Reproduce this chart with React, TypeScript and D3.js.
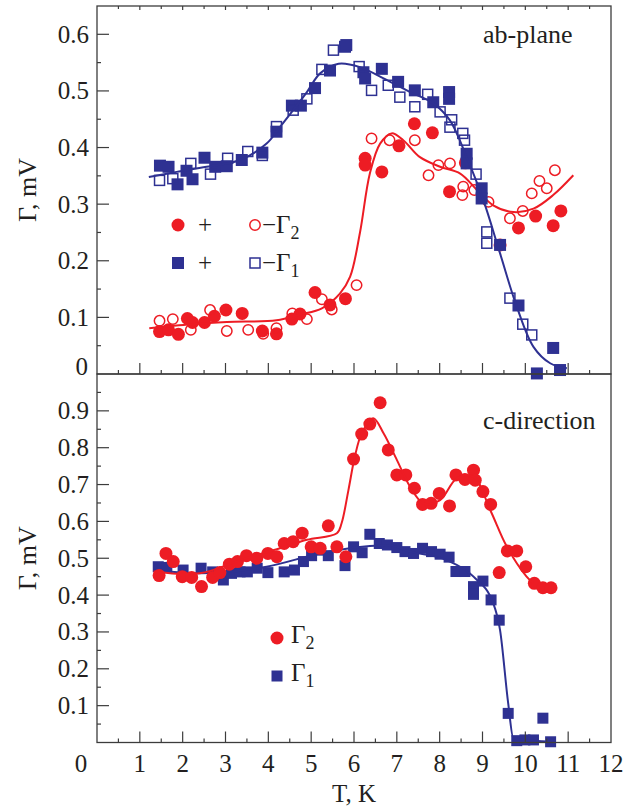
import React from "react";
import * as d3 from "d3";

// ---------- DATA ----------
// ab-plane, Γ2 (+ bias, filled circles)
const abPlusG2T = [1.46,1.67,1.90,2.11,2.23,2.51,2.74,3.01,3.39,3.86,4.19,4.55,4.74,5.09,5.44,5.80,6.26,6.26,6.65,7.05,7.41,7.83,8.23,8.60,9.41,9.84,10.24,10.65,10.83];
const abPlusG2V = [0.075,0.078,0.070,0.098,0.091,0.091,0.102,0.113,0.107,0.076,0.071,0.097,0.106,0.144,0.122,0.133,0.381,0.369,0.357,0.403,0.442,0.426,0.322,0.373,0.228,0.258,0.279,0.262,0.288];
// ab-plane, −Γ2 (open circles)
const abMinusG2T = [1.46,1.77,2.19,2.64,3.03,3.53,3.88,4.19,4.56,4.90,5.25,5.48,6.06,6.41,6.83,7.42,7.74,7.97,8.24,8.55,8.53,8.81,9.14,9.64,9.94,10.15,10.33,10.50,10.69];
const abMinusG2V = [0.094,0.097,0.078,0.113,0.076,0.078,0.071,0.081,0.107,0.097,0.132,0.114,0.157,0.416,0.413,0.413,0.351,0.369,0.372,0.331,0.316,0.325,0.304,0.275,0.288,0.319,0.341,0.328,0.360];
// ab-plane, Γ1 (+ bias, filled squares)
const abPlusG1T = [1.47,1.67,1.88,2.09,2.23,2.51,2.76,3.03,3.38,3.86,4.19,4.55,4.76,5.09,5.44,5.79,5.82,6.22,6.26,6.65,7.03,7.42,7.85,8.22,8.22,8.63,8.63,8.98,8.98,9.41,9.84,10.27,10.65,10.81];
const abPlusG1V = [0.368,0.366,0.335,0.359,0.344,0.382,0.366,0.367,0.378,0.391,0.428,0.474,0.474,0.505,0.536,0.578,0.581,0.533,0.522,0.539,0.516,0.501,0.480,0.498,0.486,0.389,0.372,0.328,0.310,0.228,0.121,0.001,0.046,0.007];
// ab-plane, −Γ1 (open squares)
const abMinusG1T = [1.46,1.77,2.19,2.65,3.05,3.52,3.86,4.19,4.58,4.90,5.25,5.52,6.12,6.41,6.80,7.07,7.42,7.72,8.01,8.24,8.28,8.54,8.58,8.85,9.10,9.10,9.64,9.94,10.15];
const abMinusG1V = [0.342,0.345,0.372,0.353,0.381,0.393,0.386,0.437,0.466,0.486,0.538,0.572,0.543,0.501,0.510,0.489,0.472,0.494,0.463,0.436,0.449,0.425,0.413,0.353,0.251,0.231,0.134,0.088,0.069];
// ab-plane fit curves
const abFitG1T = [1.21,1.86,2.56,3.34,3.96,4.27,4.58,4.90,5.21,5.64,6.14,6.69,7.31,7.85,8.24,8.63,9.02,9.41,9.80,10.19,10.58,10.97];
const abFitG1V = [0.348,0.357,0.366,0.378,0.407,0.436,0.466,0.498,0.531,0.548,0.542,0.522,0.498,0.478,0.448,0.383,0.307,0.213,0.119,0.048,0.019,0.010];
const abFitG2T = [1.22,2.20,3.03,4.19,4.74,5.25,5.67,5.91,6.14,6.37,6.61,6.88,7.15,7.54,8.01,8.48,8.87,9.25,9.72,10.19,10.65,11.12];
const abFitG2V = [0.081,0.088,0.092,0.095,0.105,0.116,0.142,0.172,0.250,0.354,0.407,0.425,0.413,0.383,0.366,0.354,0.325,0.298,0.286,0.292,0.316,0.351];

// c-direction, Γ2 (filled circles)
const cG2T = [1.45,1.61,1.78,1.99,2.21,2.44,2.70,2.87,3.09,3.28,3.49,3.73,3.99,4.20,4.37,4.58,4.79,5.00,5.21,5.40,5.60,5.81,5.99,6.18,6.37,6.61,6.80,7.00,7.21,7.41,7.60,7.80,7.99,8.23,8.38,8.59,8.79,8.83,9.01,9.19,9.39,9.58,9.80,10.01,10.21,10.41,10.60];
const cG2V = [0.453,0.513,0.491,0.450,0.448,0.423,0.448,0.461,0.484,0.491,0.507,0.500,0.513,0.504,0.540,0.545,0.568,0.531,0.527,0.588,0.531,0.504,0.769,0.837,0.864,0.922,0.794,0.726,0.726,0.690,0.646,0.649,0.676,0.642,0.726,0.714,0.739,0.712,0.681,0.646,0.461,0.520,0.520,0.477,0.432,0.420,0.420];
// c-direction, Γ1 (filled squares)
const cG1T = [1.43,1.63,2.01,2.43,2.70,2.95,3.14,3.34,3.51,3.74,3.99,4.37,4.61,4.82,5.01,5.21,5.40,5.79,5.99,6.19,6.37,6.59,6.78,7.00,7.19,7.39,7.60,7.81,8.01,8.22,8.38,8.59,8.79,8.79,9.01,9.20,9.39,9.60,9.80,9.99,10.19,10.41,10.59];
const cG1V = [0.477,0.475,0.468,0.473,0.463,0.441,0.459,0.463,0.463,0.473,0.461,0.463,0.468,0.491,0.507,0.522,0.507,0.480,0.531,0.515,0.565,0.540,0.536,0.529,0.518,0.513,0.527,0.518,0.511,0.503,0.464,0.464,0.423,0.402,0.438,0.387,0.332,0.079,0.005,0.007,0.007,0.066,0.002];
// c-direction fit curves
const cFitG1T = [1.32,2.40,3.96,5.21,6.37,6.80,7.31,8.16,8.79,9.25,9.41,9.60,9.72,10.20,10.65];
const cFitG1V = [0.468,0.459,0.477,0.513,0.533,0.535,0.518,0.495,0.450,0.378,0.305,0.106,0.011,0.005,0.002];
const cFitG2T = [1.32,2.40,3.34,4.27,4.90,5.60,5.71,5.87,6.02,6.18,6.45,6.69,7.00,7.31,7.62,8.01,8.40,8.79,9.18,9.57,10.03,10.19];
const cFitG2V = [0.464,0.459,0.495,0.527,0.550,0.568,0.595,0.685,0.776,0.839,0.880,0.839,0.767,0.694,0.649,0.658,0.717,0.721,0.631,0.531,0.450,0.432];

const xTickValues = [1,2,3,4,5,6,7,8,9,10,11,12];
const topYTicks = [0.1,0.2,0.3,0.4,0.5,0.6];
const botYTicks = [0.1,0.2,0.3,0.4,0.5,0.6,0.7,0.8,0.9];

// ---------- STYLE ----------
const RED = "#ED1C24";
const BLUE = "#2E3192";
const TXT = "#231F20";
const AX = "#3c3c3c";
const FONT = "Liberation Serif, Tinos, DejaVu Serif, Times New Roman, serif";

const L = 97, R = 611, TOP = 6, MID = 374, BOT = 742.5;

const x = d3.scaleLinear().domain([0, 12]).range([L, R]);
const yTop = d3.scaleLinear().domain([0, 0.65]).range([MID, TOP]);
const yBot = d3.scaleLinear().domain([0, 1.0]).range([BOT, MID]);

const zip = (t: number[], v: number[]) => t.map((tt, i) => [tt, v[i]] as [number, number]);

function curvePath(t: number[], v: number[], y: d3.ScaleLinear<number, number>, mono = false) {
  const g = d3.line<[number, number]>()
    .x(d => x(d[0]))
    .y(d => y(d[1]))
    .curve(mono ? d3.curveMonotoneX : d3.curveCatmullRom.alpha(0.5));
  return g(zip(t, v)) || "";
}

function Circles({ t, v, y, filled }: any) {
  return (
    <g>
      {zip(t, v).map((d, i) => filled
        ? <circle key={i} cx={x(d[0])} cy={y(d[1])} r={6.5} fill={RED} />
        : <circle key={i} cx={x(d[0])} cy={y(d[1])} r={5.2} fill="white" fillOpacity={0} stroke={RED} strokeWidth={1.5} />)}
    </g>
  );
}
function Squares({ t, v, y, filled, s = 12 }: any) {
  return (
    <g>
      {zip(t, v).map((d, i) => filled
        ? <rect key={i} x={x(d[0]) - s / 2} y={y(d[1]) - s / 2} width={s} height={s} fill={BLUE} />
        : <rect key={i} x={x(d[0]) - 5} y={y(d[1]) - 5} width={10} height={10} fill="none" stroke={BLUE} strokeWidth={1.5} />)}
    </g>
  );
}

function XTicks({ yBase, top }: { yBase: number; top?: boolean }) {
  const major = d3.range(1, 12);
  const minor = d3.range(0.5, 12, 1);
  const dir = top ? 1 : -1;
  return (
    <g stroke={AX} strokeWidth={1.2}>
      {major.map(t => <line key={"M" + t} x1={x(t)} x2={x(t)} y1={yBase} y2={yBase + dir * (top ? 4 : 11)} />)}
      {minor.map(t => <line key={"m" + t} x1={x(t)} x2={x(t)} y1={yBase} y2={yBase + dir * (top ? 3 : 4)} />)}
    </g>
  );
}
function YTicks({ y, ticks, max }: any) {
  const minor = d3.range(0.05, max, 0.1);
  return (
    <g stroke={AX} strokeWidth={1.2}>
      {ticks.map((t: number) => <line key={"M" + t} x1={L} x2={L + 12} y1={y(t)} y2={y(t)} />)}
      {minor.map((t: number) => <line key={"m" + t} x1={L} x2={L + 4} y1={y(t)} y2={y(t)} />)}
    </g>
  );
}

export default function App() {
  return (
    <svg width={638} height={810} style={{ position: "absolute", left: 0, top: 0, background: "white", fontFamily: FONT }}>
      <rect x={0} y={0} width={638} height={810} fill="white" />

      {/* ---------- top panel ---------- */}
      <Circles t={abPlusG2T} v={abPlusG2V} y={yTop} filled />
      <Circles t={abMinusG2T} v={abMinusG2V} y={yTop} filled={false} />
      <path d={curvePath(abFitG2T, abFitG2V, yTop)} fill="none" stroke={RED} strokeWidth={2} />
      <Squares t={abPlusG1T} v={abPlusG1V} y={yTop} filled />
      <Squares t={abMinusG1T} v={abMinusG1V} y={yTop} filled={false} />
      <path d={curvePath(abFitG1T, abFitG1V, yTop)} fill="none" stroke={BLUE} strokeWidth={2} />

      {/* ---------- bottom panel ---------- */}
      <Squares t={cG1T} v={cG1V} y={yBot} filled s={11} />
      <path d={curvePath(cFitG1T, cFitG1V, yBot, true)} fill="none" stroke={BLUE} strokeWidth={2} />
      <Circles t={cG2T} v={cG2V} y={yBot} filled />
      <path d={curvePath(cFitG2T, cFitG2V, yBot)} fill="none" stroke={RED} strokeWidth={2} />

      {/* ---------- frames ---------- */}
      <g fill="none" stroke={AX} strokeWidth={1.3}>
        <rect x={L} y={TOP} width={R - L} height={MID - TOP} />
        <rect x={L} y={MID} width={R - L} height={BOT - MID} />
      </g>
      <XTicks yBase={TOP} top />
      <XTicks yBase={MID} />
      <XTicks yBase={BOT} />
      <YTicks y={yTop} ticks={topYTicks} max={0.6} />
      <YTicks y={yBot} ticks={botYTicks} max={1.0} />

      {/* ---------- tick labels ---------- */}
      <g fill={TXT} fontSize={25} style={{ fontFamily: FONT }}>
        {topYTicks.map(t => <text key={"ty" + t} x={89} y={yTop(t)} dy="0.34em" textAnchor="end">{t.toFixed(1)}</text>)}
        <text x={88} y={375} textAnchor="end">0</text>
        {botYTicks.map(t => <text key={"by" + t} x={89} y={yBot(t)} dy="0.34em" textAnchor="end">{t.toFixed(1)}</text>)}
        <text x={81} y={772} textAnchor="middle">0</text>
        {xTickValues.map(t => <text key={"x" + t} x={x(t)} y={772} textAnchor="middle">{t}</text>)}
      </g>

      {/* ---------- axis titles ---------- */}
      <g fill={TXT} fontSize={26} style={{ fontFamily: FONT }}>
        <text transform={`translate(36,${(TOP + MID) / 2}) rotate(-90)`} textAnchor="middle">Γ, mV</text>
        <text transform={`translate(36,${(MID + BOT) / 2}) rotate(-90)`} textAnchor="middle">Γ, mV</text>
        <text x={354} y={802} textAnchor="middle" fontSize={25}>T, K</text>
        <text x={483} y={43}>ab-plane</text>
        <text x={483} y={429}>c-direction</text>
      </g>

      {/* ---------- legend top ---------- */}
      <g fill={TXT} fontSize={25} style={{ fontFamily: FONT }}>
        <circle cx={178} cy={225} r={6.5} fill={RED} />
        <text x={205} y={233} textAnchor="middle">+</text>
        <circle cx={255} cy={225} r={5.2} fill="none" stroke={RED} strokeWidth={1.5} />
        <text x={262} y={233}>−Γ<tspan fontSize={18} dy={6}>2</tspan></text>
        <rect x={172} y={257} width={12} height={12} fill={BLUE} />
        <text x={205} y={271} textAnchor="middle">+</text>
        <rect x={250} y={258} width={10} height={10} fill="none" stroke={BLUE} strokeWidth={1.5} />
        <text x={262} y={271}>−Γ<tspan fontSize={18} dy={6}>1</tspan></text>
      </g>
      {/* ---------- legend bottom ---------- */}
      <g fill={TXT} fontSize={25} style={{ fontFamily: FONT }}>
        <circle cx={277} cy={638} r={6.5} fill={RED} />
        <text x={291} y={643}>Γ<tspan fontSize={18} dy={6}>2</tspan></text>
        <rect x={271.5} y={670.5} width={11} height={11} fill={BLUE} />
        <text x={291} y={681}>Γ<tspan fontSize={18} dy={6}>1</tspan></text>
      </g>
    </svg>
  );
}
